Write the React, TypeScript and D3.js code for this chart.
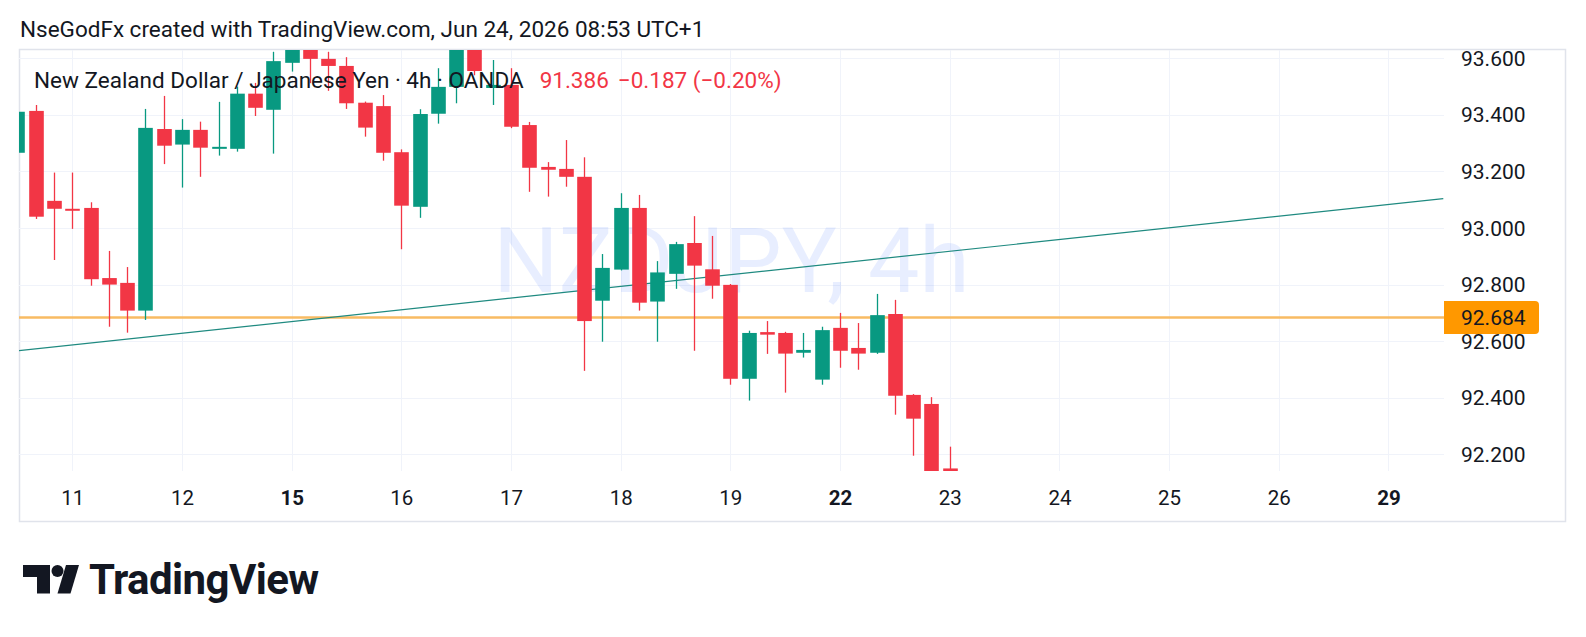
import { useEffect, useRef } from "react";
import * as d3 from "d3";

// 4h bars, NZDJPY (OANDA)
const opens = [
  93.266, 93.414, 93.096, 93.068, 93.071, 92.823, 92.806, 92.708, 93.35, 93.295,
  93.347, 93.28, 93.28, 93.475, 93.418, 93.584, 93.64, 93.598, 93.573, 93.443,
  93.431, 93.268, 93.075, 93.404, 93.499, 93.665, 93.495, 93.506, 93.364, 93.216,
  93.209, 93.181, 92.743, 92.853, 93.071, 92.74, 92.838, 92.947, 92.854, 92.799,
  92.467, 92.632, 92.629, 92.559, 92.464, 92.647, 92.576, 92.559, 92.696, 92.41,
  92.378, 92.15,
];
const highs = [
  93.425, 93.435, 93.196, 93.196, 93.091, 92.919, 92.862, 93.421, 93.467, 93.385,
  93.376, 93.446, 93.5, 93.513, 93.623, 93.66, 93.662, 93.623, 93.604, 93.447,
  93.47, 93.278, 93.42, 93.565, 93.7, 93.69, 93.594, 93.565, 93.375, 93.233,
  93.311, 93.25, 92.908, 93.123, 93.117, 92.883, 92.951, 93.042, 92.972, 92.802,
  92.637, 92.671, 92.633, 92.629, 92.651, 92.7, 92.664, 92.767, 92.746, 92.413,
  92.402, 92.227,
];
const lows = [
  93.255, 93.032, 92.887, 92.997, 92.796, 92.651, 92.63, 92.675, 93.226, 93.143,
  93.181, 93.256, 93.27, 93.396, 93.263, 93.553, 93.512, 93.485, 93.421, 93.323,
  93.238, 92.925, 93.036, 93.369, 93.441, 93.54, 93.435, 93.353, 93.128, 93.111,
  93.146, 92.495, 92.598, 92.85, 92.708, 92.598, 92.785, 92.566, 92.75, 92.446,
  92.39, 92.555, 92.418, 92.542, 92.446, 92.506, 92.499, 92.555, 92.34, 92.195,
  92.1, 91.35,
];
const closes = [
  93.411, 93.04, 93.068, 93.064, 92.819, 92.8, 92.708, 93.354, 93.291, 93.347,
  93.284, 93.287, 93.475, 93.425, 93.59, 93.64, 93.598, 93.573, 93.441, 93.355,
  93.266, 93.079, 93.403, 93.499, 93.66, 93.555, 93.506, 93.358, 93.213, 93.206,
  93.181, 92.671, 92.859, 93.071, 92.736, 92.843, 92.943, 92.867, 92.796, 92.467,
  92.629, 92.623, 92.556, 92.569, 92.639, 92.566, 92.556, 92.692, 92.407, 92.326,
  92.14, 91.386,
];

// day labels on the time axis and the bar index they start at
const dayLabels = ["11", "12", "15", "16", "17", "18", "19", "22", "23", "24", "25", "26", "29"];
const dayBars = [3, 9, 15, 21, 27, 33, 39, 45, 51, 57, 63, 69, 75];
const weekStarts = ["15", "22", "29"];

const priceTicks = [93.6, 93.4, 93.2, 93.0, 92.8, 92.6, 92.4, 92.2];

// drawings
const trendBars = [0, 78];
const trendValues = [92.566, 93.104];
const alertLevel = 92.684;

const headerText = "NseGodFx created with TradingView.com, Jun 24, 2026 08:53 UTC+1";
const symbolTitle = "New Zealand Dollar / Japanese Yen · 4h · OANDA";
const lastPrice = "91.386";
const lastChange = "−0.187 (−0.20%)";
const watermark = "NZDJPY, 4h";

const W = 1586;
const H = 637;
const FONT = "Roboto, 'Noto Sans', 'DejaVu Sans', sans-serif";
const UP = "#089981";
const DOWN = "#F23645";

const App = () => {
  const svgRef = useRef<SVGSVGElement>(null);

  useEffect(() => {
    if (!svgRef.current) return;
    const svg = d3.select(svgRef.current);
    svg.selectAll("*").remove();

    const pane = { left: 19, right: 1444, top: 50, bottom: 471 };
    const frame = { left: 19, right: 1566, top: 49, bottom: 522 };

    const x = d3.scaleLinear().domain([0, 78]).range([17.45, 1443.3]);
    const y = d3.scaleLinear().domain([92.2, 93.6]).range([454.3, 58.3]);
    const bodyW = 14.6;

    svg.append("rect").attr("width", W).attr("height", H).attr("fill", "#ffffff");

    svg
      .append("text")
      .attr("x", 20)
      .attr("y", 37)
      .attr("font-family", FONT)
      .attr("font-size", 22.5)
      .attr("fill", "#131722")
      .text(headerText);

    svg
      .append("rect")
      .attr("x", frame.left + 0.5)
      .attr("y", frame.top + 0.5)
      .attr("width", frame.right - frame.left - 1)
      .attr("height", frame.bottom - frame.top - 1)
      .attr("fill", "none")
      .attr("stroke", "#e0e3eb")
      .attr("stroke-width", 1.5);

    svg
      .append("clipPath")
      .attr("id", "pane-clip")
      .append("rect")
      .attr("x", pane.left)
      .attr("y", pane.top)
      .attr("width", pane.right - pane.left)
      .attr("height", pane.bottom - pane.top);

    const g = svg.append("g").attr("clip-path", "url(#pane-clip)");

    // grid
    g.selectAll(".hgrid")
      .data(priceTicks)
      .join("line")
      .attr("x1", pane.left)
      .attr("x2", pane.right)
      .attr("y1", (d) => Math.round(y(d)) + 0.5)
      .attr("y2", (d) => Math.round(y(d)) + 0.5)
      .attr("stroke", "#f0f3fa")
      .attr("stroke-width", 1);

    g.selectAll(".vgrid")
      .data(dayBars)
      .join("line")
      .attr("x1", (d) => Math.round(x(d)) + 0.5)
      .attr("x2", (d) => Math.round(x(d)) + 0.5)
      .attr("y1", pane.top)
      .attr("y2", pane.bottom)
      .attr("stroke", "#f0f3fa")
      .attr("stroke-width", 1);

    // watermark
    g.append("text")
      .attr("x", (pane.left + pane.right) / 2)
      .attr("y", 292)
      .attr("text-anchor", "middle")
      .attr("font-family", FONT)
      .attr("font-size", 91.5)
      .attr("fill", "rgba(41, 98, 255, 0.11)")
      .text(watermark);

    // alert level
    g.append("line")
      .attr("x1", pane.left)
      .attr("x2", pane.right)
      .attr("y1", y(alertLevel))
      .attr("y2", y(alertLevel))
      .attr("stroke", "#f8bb63")
      .attr("stroke-width", 2.5);

    // trend line
    const trend = d3
      .line<number>()
      .x((d) => x(d))
      .y((_, i) => y(trendValues[i]));
    g.append("path")
      .attr("d", trend(trendBars))
      .attr("fill", "none")
      .attr("stroke", "#1f8a80")
      .attr("stroke-width", 1.2);

    // candles
    const bars = d3.range(opens.length);
    const candle = g
      .selectAll("g.candle")
      .data(bars)
      .join("g")
      .attr("class", "candle")
      .attr("fill", (i) => (closes[i] >= opens[i] ? UP : DOWN))
      .attr("stroke", (i) => (closes[i] >= opens[i] ? UP : DOWN));

    candle
      .append("line")
      .attr("x1", (i) => Math.round(x(i)) + 0.5)
      .attr("x2", (i) => Math.round(x(i)) + 0.5)
      .attr("y1", (i) => y(highs[i]))
      .attr("y2", (i) => y(lows[i]))
      .attr("stroke-width", 1.3);

    candle
      .append("rect")
      .attr("stroke", "none")
      .attr("x", (i) => Math.round(x(i)) + 0.5 - bodyW / 2)
      .attr("width", bodyW)
      .attr("y", (i) => y(Math.max(opens[i], closes[i])))
      .attr("height", (i) =>
        Math.max(2, y(Math.min(opens[i], closes[i])) - y(Math.max(opens[i], closes[i])))
      );

    // legend over the pane
    const legend = svg
      .append("text")
      .attr("x", 34)
      .attr("y", 88)
      .attr("font-family", FONT)
      .attr("font-size", 22.5)
      .attr("fill", "#131722");
    legend.append("tspan").text(symbolTitle);
    legend.append("tspan").attr("dx", 16).attr("fill", DOWN).text(lastPrice);
    legend.append("tspan").attr("dx", 9).attr("fill", DOWN).text(lastChange);

    // price axis
    svg
      .selectAll(".plabel")
      .data(priceTicks)
      .join("text")
      .attr("x", 1461)
      .attr("y", (d) => y(d))
      .attr("dy", "0.36em")
      .attr("font-family", FONT)
      .attr("font-size", 21)
      .attr("fill", "#131722")
      .text((d) => d3.format(".3f")(d));

    const ay = y(alertLevel);
    svg
      .append("path")
      .attr(
        "d",
        `M${pane.right},${ay - 16.5} H${1535} a4,4 0 0 1 4,4 V${ay + 12.5} a4,4 0 0 1 -4,4 H${pane.right} Z`
      )
      .attr("fill", "#ff9800");
    svg
      .append("text")
      .attr("x", 1461)
      .attr("y", ay)
      .attr("dy", "0.36em")
      .attr("font-family", FONT)
      .attr("font-size", 21)
      .attr("fill", "#131722")
      .text(d3.format(".3f")(alertLevel));

    // time axis
    svg
      .selectAll(".tlabel")
      .data(dayLabels)
      .join("text")
      .attr("x", (_, k) => x(dayBars[k]) + 0.5)
      .attr("y", 498)
      .attr("dy", "0.36em")
      .attr("text-anchor", "middle")
      .attr("font-family", FONT)
      .attr("font-size", 20.5)
      .attr("font-weight", (d) => (weekStarts.includes(d) ? 700 : 400))
      .attr("fill", "#131722")
      .text((d) => d);

    // TradingView logo
    const logo = svg.append("g").attr("fill", "#131722");
    logo.append("path").attr("d", "M23,565 H50 V593.5 H37 V577 H23 Z");
    logo.append("circle").attr("cx", 57.5).attr("cy", 571).attr("r", 6);
    logo.append("path").attr("d", "M66,565 H79 L70.5,593.5 H57.5 Z");
    logo
      .append("text")
      .attr("x", 89)
      .attr("y", 593.5)
      .attr("font-family", FONT)
      .attr("font-size", 42)
      .attr("font-weight", 700)
      .attr("letter-spacing", -0.6)
      .text("TradingView");
  }, []);

  return (
    <svg
      ref={svgRef}
      width={W}
      height={H}
      style={{ position: "absolute", left: 0, top: 0, display: "block" }}
    />
  );
};

export default App;
